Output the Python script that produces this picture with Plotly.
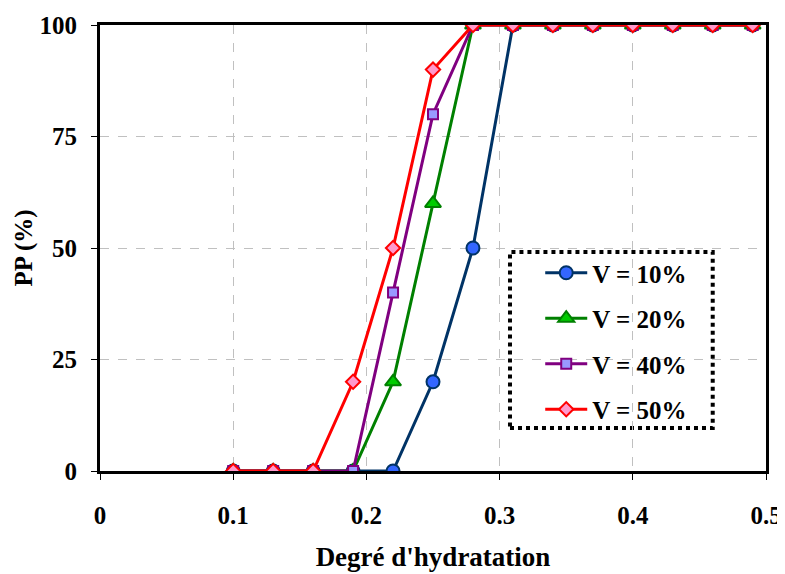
import plotly.graph_objects as go

x_vals = [0.10, 0.13, 0.16, 0.19, 0.22, 0.25, 0.28, 0.31, 0.34, 0.37, 0.40, 0.43, 0.46, 0.49]
v10 = [0, 0, 0, 0, 0, 20, 50, 100, 100, 100, 100, 100, 100, 100]
v20 = [0, 0, 0, 0, 20, 60, 100, 100, 100, 100, 100, 100, 100, 100]
v40 = [0, 0, 0, 0, 40, 80, 100, 100, 100, 100, 100, 100, 100, 100]
v50 = [0, 0, 0, 20, 50, 90, 100, 100, 100, 100, 100, 100, 100, 100]
names = ["V = 10%", "V = 20%", "V = 40%", "V = 50%"]
x_ticks = [0, 0.1, 0.2, 0.3, 0.4, 0.5]
x_tick_text = ["0", "0.1", "0.2", "0.3", "0.4", "0.5"]
y_ticks = [0, 25, 50, 75, 100]

FONT = "Liberation Serif"

series = [
    (v10, names[0], "#003366", "circle", "#3366FF", "#003366", 13),
    (v20, names[1], "#008000", "triangle-up", "#00CC00", "#008000", 14),
    (v40, names[2], "#800080", "square", "#9999FF", "#800080", 10),
    (v50, names[3], "#FF0000", "diamond", "#FF99CC", "#FF0000", 11),
]

fig = go.Figure()
for i, (ys, nm, lc, sym, fc, oc, sz) in enumerate(series):
    fig.add_trace(go.Scatter(
        x=x_vals, y=ys, name="<b>%s</b>" % nm, mode="lines+markers",
        legendgroup=f"g{i}",
        line=dict(color=lc, width=3),
        marker=dict(symbol=sym, size=sz, color=fc, line=dict(color=oc, width=2)),
    ))

# page body has an 8px margin: shrink the figure so it fits the 785x574 window
fig.update_layout(
    width=777, height=566,
    margin=dict(l=92, r=19, t=17, b=103),
    paper_bgcolor="white", plot_bgcolor="white",
    font=dict(family=FONT, color="black", size=20),
    showlegend=True,
    legend=dict(
        x=0.661, y=0.4955, xanchor="left", yanchor="top",
        bgcolor="rgba(0,0,0,0)", borderwidth=0,
        font=dict(family=FONT, size=25, color="black"),
        tracegroupgap=10, itemwidth=42,
    ),
    xaxis=dict(
        range=[0, 0.5], tickmode="array", tickvals=x_ticks,
        ticktext=["<b>%s</b>" % t for t in x_tick_text],
        showline=True, linecolor="black", linewidth=3, mirror=True,
        ticks="outside", ticklen=6, tickcolor="black",
        showgrid=True, gridcolor="#C0C0C0", griddash="dash", gridwidth=1,
        zeroline=False, automargin=False, ticklabelstandoff=14,
        tickfont=dict(family=FONT, size=25, color="black"),
        title=dict(text="<b>Degré d'hydratation</b>", font=dict(family=FONT, size=27), standoff=20),
    ),
    yaxis=dict(
        range=[0, 100], tickmode="array", tickvals=y_ticks,
        ticktext=["<b>%d</b>" % v for v in y_ticks],
        showline=True, linecolor="black", linewidth=3, mirror=True,
        ticks="outside", ticklen=6, tickcolor="black",
        showgrid=True, gridcolor="#C0C0C0", griddash="dash", gridwidth=1,
        zeroline=False, automargin=False, ticklabelstandoff=9,
        tickfont=dict(family=FONT, size=25, color="black"),
        title=dict(text="<b>PP (%)</b>", font=dict(family=FONT, size=25), standoff=0),
    ),
)

# legend frame
fig.add_shape(type="rect", xref="paper", yref="paper",
              x0=0.6156, x1=0.920, y0=0.0964, y1=0.491,
              line=dict(color="black", width=4, dash="dot"),
              fillcolor="white", layer="below")

fig.write_html("out.html")
